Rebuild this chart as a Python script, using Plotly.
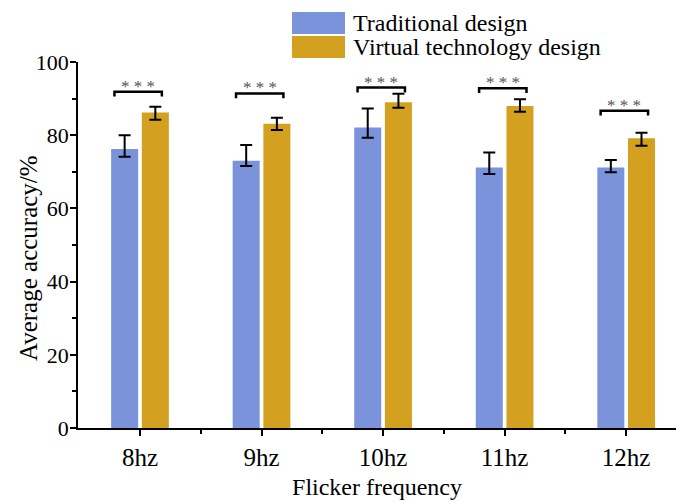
import plotly.graph_objects as go

categories = ["8hz", "9hz", "10hz", "11hz", "12hz"]
series_names = ["Traditional design", "Virtual technology design"]

traditional = [76.2, 73.0, 82.1, 71.2, 71.2]
traditional_err_plus = [3.8, 4.3, 5.2, 4.1, 2.0]
traditional_err_minus = [2.1, 1.4, 2.8, 1.8, 1.3]

virtual = [86.2, 83.1, 89.0, 88.0, 79.2]
virtual_err_plus = [1.6, 1.7, 2.3, 1.8, 1.5]
virtual_err_minus = [2.0, 1.7, 1.5, 1.6, 2.1]

sig_y = [91.9, 91.4, 93.0, 92.8, 86.7]
sig_text = ["* * *"] * 5

y_ticks = [0, 20, 40, 60, 80, 100]
y_title = "Average accuracy/%"
x_title = "Flicker frequency"

colors = ["#7b93db", "#d4a020"]
FONT = "Liberation Serif, Times New Roman, serif"

xpos = list(range(len(categories)))

fig = go.Figure()
fig.add_trace(go.Bar(
    x=xpos, y=traditional, name=series_names[0],
    marker=dict(color=colors[0], line=dict(width=0)),
    error_y=dict(type="data", symmetric=False, array=traditional_err_plus,
                 arrayminus=traditional_err_minus, color="black", thickness=2, width=6),
))
fig.add_trace(go.Bar(
    x=xpos, y=virtual, name=series_names[1],
    marker=dict(color=colors[1], line=dict(width=0)),
    error_y=dict(type="data", symmetric=False, array=virtual_err_plus,
                 arrayminus=virtual_err_minus, color="black", thickness=2, width=6),
))

shapes = []
annotations = []
for i, yv in enumerate(sig_y):
    x0, x1 = i - 0.21, i + 0.18
    shapes.append(dict(
        type="path", xref="x", yref="y",
        path=f"M {x0},{yv-1.3} L {x0},{yv} L {x1},{yv} L {x1},{yv-1.3}",
        line=dict(color="black", width=2.5),
    ))
    annotations.append(dict(
        x=(x0 + x1) / 2, y=yv, xref="x", yref="y", text=sig_text[i],
        showarrow=False, yanchor="bottom", yshift=-6,
        font=dict(family=FONT, size=17, color="#555555"),
    ))

# manual legend and y title (paper coords)
L, W, T, H = 78, 598, 62, 366
def px(xp):
    return (xp - L) / W
def py(yp):
    return (T + H - yp) / H

legend_rows = [(12, 34), (36, 58)]
for k, (ya, yb) in enumerate(legend_rows):
    shapes.append(dict(
        type="rect", xref="paper", yref="paper",
        x0=px(292), x1=px(345), y0=py(yb), y1=py(ya),
        fillcolor=colors[k], line=dict(width=0),
    ))
    annotations.append(dict(
        x=px(351), y=py((ya + yb) / 2), xref="paper", yref="paper",
        text=series_names[k], showarrow=False, xanchor="left", yanchor="middle",
        font=dict(family=FONT, size=24, color="black"),
    ))

annotations.append(dict(
    x=px(28), y=py(258), xref="paper", yref="paper", text=y_title,
    textangle=-90, showarrow=False, xanchor="center", yanchor="middle",
    font=dict(family=FONT, size=25, color="black"),
))

fig.update_layout(
    width=676, height=502,
    margin=dict(l=78, r=0, t=62, b=74),
    paper_bgcolor="white", plot_bgcolor="white",
    barmode="group", bargap=0.495, bargroupgap=0.12,
    showlegend=False,
    shapes=shapes, annotations=annotations,
    font=dict(family=FONT, color="black"),
)
fig.update_xaxes(
    range=[-0.51, 4.41],
    tickmode="array", tickvals=xpos, ticktext=categories,
    ticks="outside", ticklen=6, tickwidth=1.5, tickcolor="black",
    minor=dict(tickmode="array", tickvals=[i + 0.5 for i in xpos[:-1]],
               ticks="outside", ticklen=4, tickwidth=1.5, tickcolor="black"),
    showline=True, linecolor="black", linewidth=1.5,
    showgrid=False, zeroline=False,
    tickfont=dict(family=FONT, size=25),
    title=dict(text=x_title, font=dict(family=FONT, size=24), standoff=8),
)
fig.update_yaxes(
    range=[0, 100],
    tickmode="array", tickvals=y_ticks,
    ticks="outside", ticklen=6, tickwidth=1.5, tickcolor="black",
    minor=dict(tickmode="array", tickvals=[10, 30, 50, 70, 90],
               ticks="outside", ticklen=4, tickwidth=1.5, tickcolor="black"),
    showline=True, linecolor="black", linewidth=1.5,
    showgrid=False, zeroline=False,
    tickfont=dict(family=FONT, size=22),
    ticklabelstandoff=-3,
)

fig.write_html("out.html", config={"displayModeBar": False},
               post_script="document.body.style.margin='0';")
